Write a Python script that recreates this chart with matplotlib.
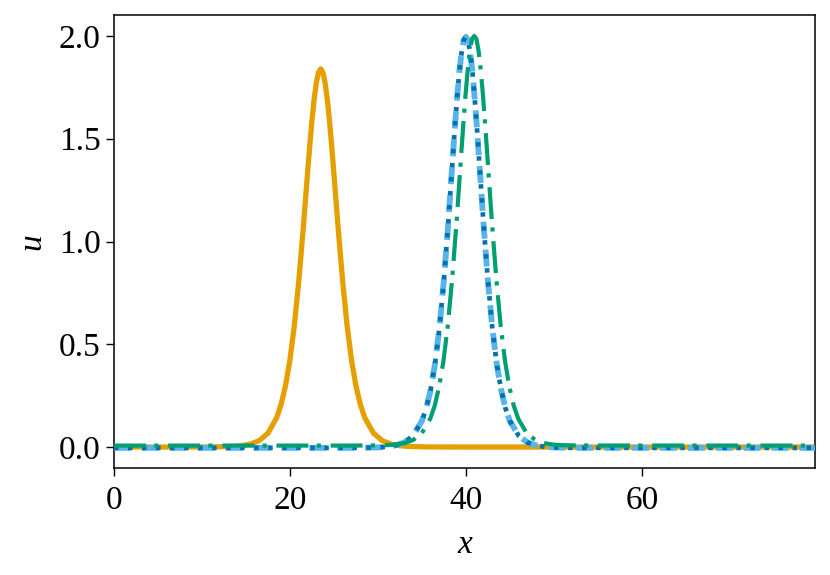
import matplotlib
matplotlib.use("Agg")
import matplotlib.pyplot as plt

plt.rcParams['font.family'] = ['Liberation Serif', 'DejaVu Serif']
plt.rcParams['lines.scale_dashes'] = False

# Orange solid curve (earlier soliton)
x_orange = [0, 10, 11.5, 13.5, 14.5, 15.5, 16.5, 17.5, 18.5, 19, 19.5, 20, 20.5, 21, 21.5, 21.75,
            22, 22.25, 22.5, 22.75, 23, 23.25, 23.5, 23.75, 24, 24.25, 24.5, 24.75, 25, 25.25,
            25.5, 26, 26.5, 27, 27.5, 28, 28.5, 29.5, 30.5, 31.5, 32.5, 33.5, 35.5, 40, 79.69]
u_orange = [0.0, 0.0, 0.0006, 0.003, 0.0066, 0.014, 0.031, 0.067, 0.143, 0.208, 0.298, 0.423, 0.591,
            0.804, 1.056, 1.193, 1.330, 1.463, 1.587, 1.691, 1.772, 1.823, 1.840, 1.823, 1.772,
            1.691, 1.587, 1.463, 1.330, 1.193, 1.056, 0.804, 0.591, 0.423, 0.298, 0.208, 0.143,
            0.067, 0.031, 0.014, 0.0066, 0.003, 0.0006, 0.0, 0.0]

# Blue curves (dashed light blue and dotted dark blue, same values)
x_blue = [0, 25, 28, 30, 31, 32, 33, 34, 35, 35.5, 36, 36.5, 37, 37.5, 38, 38.25, 38.5, 38.75, 39,
          39.25, 39.5, 39.75, 40, 40.25, 40.5, 40.75, 41, 41.25, 41.5, 41.75, 42, 42.5, 43, 43.5,
          44, 44.5, 45, 46, 47, 48, 49, 50, 52, 79.69]
u_blue = [-0.004, -0.004, -0.004, -0.002, 0.001, 0.008, 0.022, 0.055, 0.127, 0.189, 0.280, 0.407,
          0.582, 0.811, 1.090, 1.248, 1.401, 1.558, 1.697, 1.824, 1.915, 1.979, 1.996, 1.979,
          1.915, 1.824, 1.697, 1.558, 1.401, 1.248, 1.090, 0.811, 0.582, 0.407, 0.280, 0.189,
          0.127, 0.055, 0.022, 0.008, 0.001, -0.002, -0.004, -0.004]

# Green dash-dot curve (slightly shifted)
x_green = [0, 26, 29, 31, 32, 33, 34, 35, 35.95, 36.45, 36.95, 37.45, 37.95, 38.45, 38.95, 39.2,
           39.45, 39.7, 39.95, 40.2, 40.45, 40.7, 40.95, 41.2, 41.45, 41.7, 41.95, 42.2, 42.45,
           42.7, 42.95, 43.45, 43.95, 44.45, 44.95, 45.45, 45.95, 46.9, 47.9, 48.9, 49.9, 50.9,
           53, 79.69]
u_green = [0.007, 0.007, 0.0075, 0.009, 0.012, 0.019, 0.034, 0.068, 0.138, 0.200, 0.291, 0.418,
           0.593, 0.822, 1.101, 1.255, 1.412, 1.565, 1.708, 1.831, 1.926, 1.986, 2.0, 1.986,
           1.926, 1.831, 1.708, 1.565, 1.412, 1.255, 1.101, 0.822, 0.593, 0.418, 0.291, 0.200,
           0.138, 0.068, 0.034, 0.019, 0.012, 0.009, 0.0075, 0.007]

x_ticks = [0, 20, 40, 60]
y_ticks = [0.0, 0.5, 1.0, 1.5, 2.0]
y_ticklabels = ['0.0', '0.5', '1.0', '1.5', '2.0']

fig = plt.figure(figsize=(8.3, 5.75), dpi=100)
ax = fig.add_axes([0.1373, 0.1861, 0.8447, 0.7878])

ax.plot(x_orange, u_orange, color='#E69F00', lw=3.8, solid_capstyle='butt', zorder=2)
ax.plot(x_blue, u_blue, color='#56B4E9', lw=4.2, dashes=(12.2, 7.9), zorder=3)
ax.plot(x_blue, u_blue, color='#0072B2', lw=3.4, dashes=(3.2, 6.9), zorder=4)
ax.plot(x_green, u_green, color='#009E73', lw=3.0, dashes=(23, 6, 3, 7), zorder=5)

ax.set_xlim(0, 79.69)
ax.set_ylim(-0.102, 2.102)
ax.set_xticks(x_ticks)
ax.set_xticklabels([str(t) for t in x_ticks])
ax.set_yticks(y_ticks)
ax.set_yticklabels(y_ticklabels)

ax.tick_params(axis='both', direction='out', length=5.5, width=1.0, labelsize=24, pad=4)
ax.tick_params(axis='x', pad=7)
for sp in ax.spines.values():
    sp.set_linewidth(1.1)

ax.set_xlabel('x', fontsize=24, fontstyle='italic', labelpad=10)
ax.set_ylabel('u', fontsize=24, fontstyle='italic', labelpad=8)

fig.savefig('out.png', dpi=100)
